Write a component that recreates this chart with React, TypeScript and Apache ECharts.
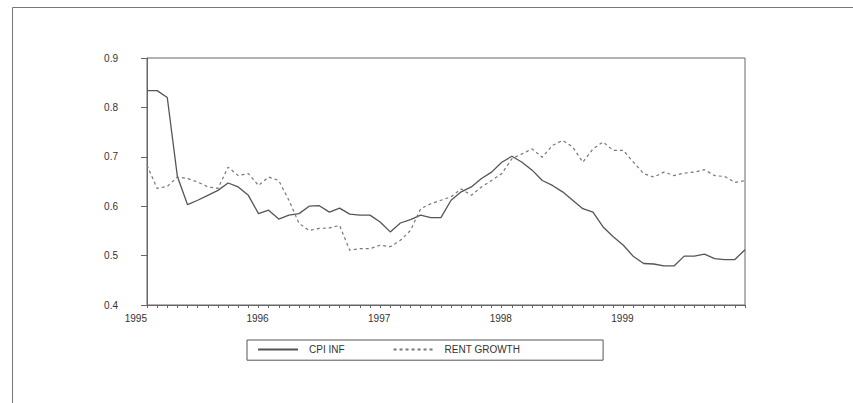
import React, { useEffect, useRef } from "react";
import * as echarts from "echarts";

const years = ["1995", "1996", "1997", "1998", "1999"];
const months: string[] = [];
for (const y of years) {
  for (let m = 1; m <= 12; m++) months.push(`${y}-${m < 10 ? "0" + m : m}`);
}

const cpiInf = [
  0.834, 0.834, 0.82, 0.66, 0.603, 0.612, 0.622, 0.632, 0.647, 0.639, 0.622, 0.585,
  0.592, 0.574, 0.582, 0.585, 0.6, 0.601, 0.588, 0.596, 0.584, 0.582, 0.582, 0.568,
  0.548, 0.566, 0.573, 0.582, 0.577, 0.577, 0.612, 0.629, 0.639, 0.656, 0.669, 0.689,
  0.701, 0.689, 0.673, 0.652, 0.642, 0.629, 0.612, 0.595, 0.588, 0.558, 0.538, 0.521,
  0.498, 0.484, 0.483, 0.479, 0.479, 0.499, 0.499, 0.503, 0.494, 0.492, 0.492, 0.512,
];

const rentGrowth = [
  0.683, 0.636, 0.64, 0.659, 0.656, 0.649, 0.639, 0.636, 0.679, 0.662, 0.666, 0.642,
  0.659, 0.652, 0.612, 0.565, 0.551, 0.555, 0.556, 0.561, 0.511, 0.514, 0.514, 0.521,
  0.518, 0.531, 0.551, 0.595, 0.605, 0.612, 0.619, 0.635, 0.622, 0.639, 0.652, 0.666,
  0.696, 0.706, 0.716, 0.699, 0.723, 0.733, 0.72, 0.689, 0.716, 0.73, 0.713, 0.713,
  0.689, 0.666, 0.659, 0.669, 0.662, 0.667, 0.669, 0.674, 0.662, 0.66, 0.648, 0.652,
];

const seriesNames = ["CPI INF", "RENT GROWTH"];
const FONT = "'Liberation Sans', Arial, sans-serif";

export default function App() {
  const ref = useRef<HTMLDivElement>(null);
  useEffect(() => {
    if (!ref.current) return;
    const chart = echarts.init(ref.current, undefined, { renderer: "svg" });
    chart.setOption({
      animation: false,
      backgroundColor: "#ffffff",
      textStyle: { fontFamily: FONT },
      grid: {
        left: 147,
        right: 108,
        top: 58,
        bottom: 98,
        show: true,
        borderColor: "#666",
        borderWidth: 1,
        backgroundColor: "transparent",
      },
      xAxis: {
        type: "category",
        data: months,
        boundaryGap: false,
        axisLine: { lineStyle: { color: "#666", width: 1 } },
        axisTick: {
          interval: 0,
          length: 3,
          inside: false,
          lineStyle: { color: "#666" },
        },
        axisLabel: {
          interval: 0,
          formatter: (v: string, i: number) => (i % 12 === 0 ? v.slice(0, 4) : ""),
          align: "right",
          margin: 8,
          fontSize: 10,
          color: "#333",
          fontFamily: FONT,
          hideOverlap: false,
        },
        splitLine: { show: false },
      },
      yAxis: {
        type: "value",
        min: 0.4,
        max: 0.9,
        interval: 0.1,
        axisLine: { show: true, lineStyle: { color: "#666", width: 1 } },
        axisTick: { show: true, length: 6, lineStyle: { color: "#666" } },
        axisLabel: {
          formatter: (v: number) => v.toFixed(1),
          margin: 29,
          fontSize: 10,
          color: "#333",
          fontFamily: FONT,
        },
        splitLine: { show: false },
      },
      legend: {
        left: 247,
        top: 340,
        orient: "horizontal",
        padding: [4, 83, 5, 10],
        borderColor: "#555",
        borderWidth: 1,
        itemWidth: 40,
        itemHeight: 14,
        itemGap: 48,
        data: seriesNames,
        itemStyle: { opacity: 0, color: "transparent", borderColor: "transparent", borderWidth: 0 },
        textStyle: {
          fontSize: 10,
          color: "#333",
          fontFamily: FONT,
          padding: [0, 0, 0, 6],
        },
      },
      graphic: [
        {
          type: "rect",
          silent: true,
          shape: { x: 12.5, y: 7.5, width: 860, height: 420 },
          style: { fill: "none", stroke: "#777", lineWidth: 1 },
        },
      ],
      series: [
        {
          name: seriesNames[0],
          type: "line",
          data: cpiInf,
          symbol: "none",
          lineStyle: { color: "#555", width: 1.3, type: "solid" },
          itemStyle: { color: "#555" },
        },
        {
          name: seriesNames[1],
          type: "line",
          data: rentGrowth,
          symbol: "none",
          lineStyle: { color: "#777", width: 1.2, type: [3, 3] },
          itemStyle: { color: "#777" },
        },
      ],
    });
    return () => chart.dispose();
  }, []);
  return (
    <div
      ref={ref}
      style={{ position: "fixed", left: 0, top: 0, width: 853, height: 403 }}
    />
  );
}
